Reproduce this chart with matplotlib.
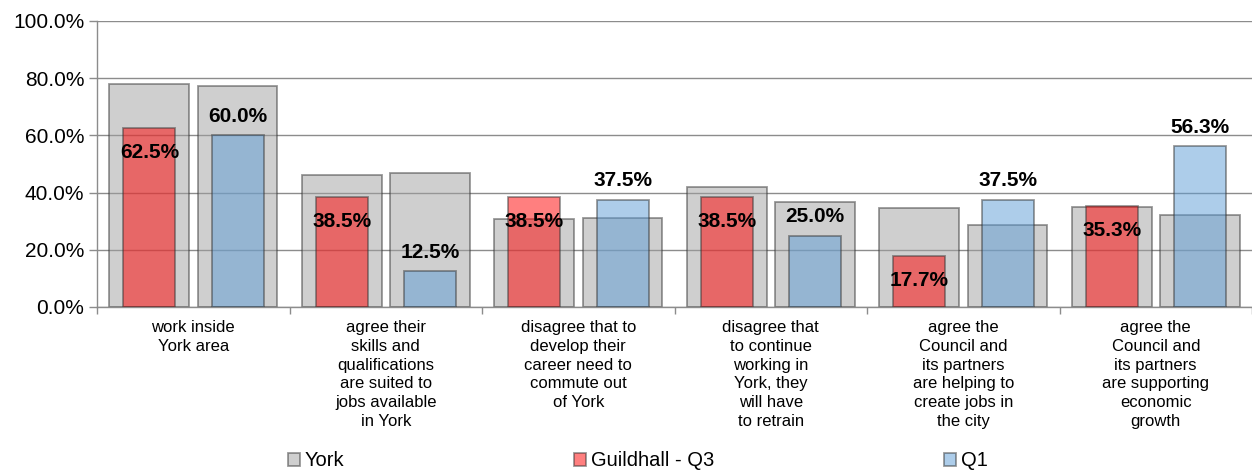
import matplotlib
matplotlib.use("Agg")
import matplotlib.pyplot as plt
import numpy as np
from matplotlib.ticker import FuncFormatter, FixedLocator

plt.rcParams['font.family'] = ['Liberation Sans', 'DejaVu Sans']

categories = [
    "work inside\nYork area",
    "agree their\nskills and\nqualifications\nare suited to\njobs available\nin York",
    "disagree that to\ndevelop their\ncareer need to\ncommute out\nof York",
    "disagree that\nto continue\nworking in\nYork, they\nwill have\nto retrain",
    "agree the\nCouncil and\nits partners\nare helping to\ncreate jobs in\nthe city",
    "agree the\nCouncil and\nits partners\nare supporting\neconomic\ngrowth",
]
york_q3 = [77.8, 46.2, 30.8, 41.8, 34.7, 35.0]
york_q1 = [77.4, 46.9, 31.0, 36.7, 28.7, 32.1]
guildhall_q3 = [62.5, 38.5, 38.5, 38.5, 17.7, 35.3]
guildhall_q1 = [60.0, 12.5, 37.5, 25.0, 37.5, 56.3]
y_ticks = [0, 20, 40, 60, 80, 100]

fig = plt.figure(figsize=(12.52, 4.71), dpi=100)
ax = fig.add_axes([97/1252, 1-307/471, 1-97/1252, (307-21)/471])

x = np.arange(len(categories))
off1, off2 = -0.228, 0.230
wg, wc = 0.415, 0.27

grey = (0.63, 0.63, 0.63)
edge = (0.2, 0.2, 0.2)
ax.bar(x + off1, york_q3, wg, color=grey, alpha=0.5, edgecolor=edge, linewidth=1.3, zorder=2, label="York")
ax.bar(x + off2, york_q1, wg, color=grey, alpha=0.5, edgecolor=edge, linewidth=1.3, zorder=2)
ax.bar(x + off1, guildhall_q3, wc, color=(1.0, 0.0, 0.0), alpha=0.5, edgecolor=edge, linewidth=1.3, zorder=3, label="Guildhall - Q3")
ax.bar(x + off2, guildhall_q1, wc, color=(0.36, 0.61, 0.84), alpha=0.5, edgecolor=edge, linewidth=1.3, zorder=3, label="Q1")

for xi, v in zip(x + off1, guildhall_q3):
    ax.annotate(f"{v:.1f}%", (xi, v), xytext=(0, -17.5), textcoords="offset points",
                ha="center", va="center", fontsize=15, fontweight="bold", zorder=5)
for xi, v in zip(x + off2, guildhall_q1):
    ax.annotate(f"{v:.1f}%", (xi, v), xytext=(0, 13.5), textcoords="offset points",
                ha="center", va="center", fontsize=15, fontweight="bold", zorder=5)

ax.set_xlim(-0.5, len(categories) - 0.5)
ax.set_ylim(0, 100)
ax.set_yticks(y_ticks)
ax.yaxis.set_major_formatter(FuncFormatter(lambda v, p: f"{v:.1f}%"))
ax.tick_params(axis='y', labelsize=15, length=6, color=(0.55, 0.55, 0.55), width=1, pad=3)
ax.set_xticks(x)
ax.set_xticklabels(categories, fontsize=12, linespacing=1.31, va="top")
ax.tick_params(axis='x', which='major', length=0, pad=9.5)
ax.xaxis.set_minor_locator(FixedLocator(np.arange(-0.5, len(categories), 1.0)))
ax.tick_params(axis='x', which='minor', length=5, color=(0.55, 0.55, 0.55), width=1)

ax.grid(axis='y', color=(0.55, 0.55, 0.55), linewidth=1, zorder=1)
ax.set_axisbelow(True)
for s in ['top', 'right']:
    ax.spines[s].set_visible(False)
for s in ['left', 'bottom']:
    ax.spines[s].set_color((0.55, 0.55, 0.55))
    ax.spines[s].set_linewidth(1)

fig.legend(loc='center', bbox_to_anchor=(638/1252, 1-461/471), ncol=3, frameon=False,
           fontsize=14.5, columnspacing=11.4, handlelength=0.6, handleheight=0.6,
           handletextpad=0.25, borderpad=0, borderaxespad=0)

fig.savefig("out.png", dpi=100)
